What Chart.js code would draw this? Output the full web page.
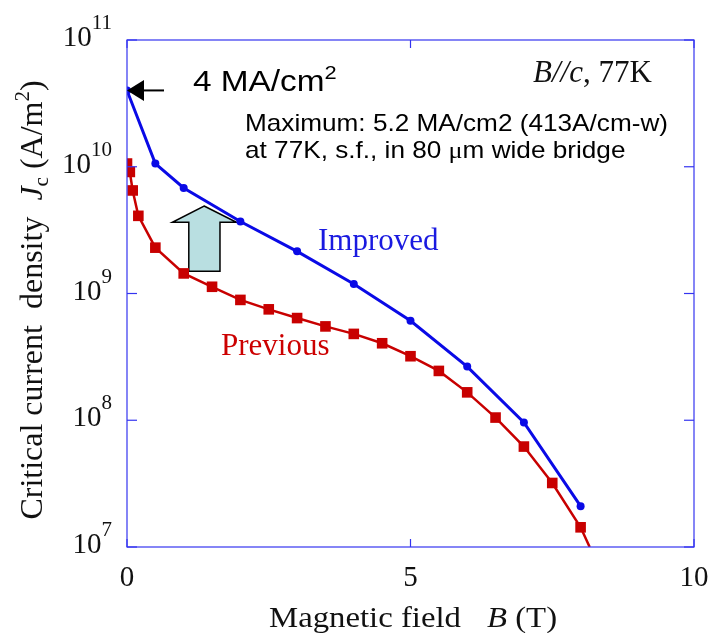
<!DOCTYPE html>
<html>
<head>
<meta charset="utf-8">
<script src="https://cdn.jsdelivr.net/npm/chart.js@4.4.1/dist/chart.umd.min.js"></script>
<style>
  body { margin: 0; background: #fff; }
  canvas { display: block; }
</style>
</head>
<body>
<canvas id="jcChart" width="711" height="633"></canvas>
<script>
// dados (B em T, Jc em A/m2)
const improvedField = [0, 0.5, 1, 2, 3, 4, 5, 6, 7, 8];
const improvedJc = [4.0e10, 1.06e10, 6.8e9, 3.7e9, 2.15e9, 1.19e9, 6.1e8, 2.65e8, 9.6e7, 2.1e7];

// a ultima posicao e onde a linha vermelha sai do quadro (sem marcador)
const previousField = [0, 0.05, 0.1, 0.2, 0.5, 1, 1.5, 2, 2.5, 3, 3.5, 4, 4.5, 5, 5.5, 6, 6.5, 7, 7.5, 8, 8.16];
const previousJc = [1.06e10, 9.1e9, 6.5e9, 4.1e9, 2.3e9, 1.44e9, 1.13e9, 8.9e8, 7.5e8, 6.4e8, 5.5e8, 4.8e8, 4.05e8, 3.2e8, 2.45e8, 1.66e8, 1.05e8, 6.2e7, 3.2e7, 1.43e7, 1.0e7];

// ticks dos eixos
const xTicks = [0, 5, 10];
const yTicks = [1e7, 1e8, 1e9, 1e10, 1e11];

// seta azul clara (em unidades de dados)
const blockArrowField = [1.36, 1.93, 1.64, 1.64, 1.09, 1.09, 0.8];
const blockArrowJc = [4.9e9, 3.65e9, 3.65e9, 1.5e9, 1.5e9, 3.65e9, 3.65e9];

const SERIF = '"Liberation Serif", "Times New Roman", serif';
const SANS = '"Liberation Sans", Arial, sans-serif';

// ____________________________________________________________________________________________

// desenha pedaços de texto em sequencia: [texto, fonte, deslocamento vertical]
function drawRuns(ctx, runs, x, y, align) {
    let total = 0;
    runs.forEach(r => { ctx.font = r[1]; total += ctx.measureText(r[0]).width; });
    let cx = x;
    if (align === 'right') cx = x - total;
    if (align === 'center') cx = x - total / 2;
    runs.forEach(r => {
        ctx.font = r[1];
        ctx.fillText(r[0], cx, y + (r[2] || 0));
        cx += ctx.measureText(r[0]).width;
    });
}

// texto esticado na horizontal (o original esta um pouco largo)
function drawWide(ctx, runs, x, y, sx) {
    ctx.save();
    ctx.translate(x, y);
    ctx.scale(sx, 1);
    drawRuns(ctx, runs, 0, 0, 'left');
    ctx.restore();
}

function line(ctx, x1, y1, x2, y2) {
    ctx.beginPath();
    ctx.moveTo(x1, y1);
    ctx.lineTo(x2, y2);
    ctx.stroke();
}

// ____________________________________________________________________________________________

const decorPlugin = {
    id: 'decor',
    beforeDatasetsDraw(chart) {
        const { ctx, scales: { x, y } } = chart;
        // seta em bloco
        ctx.save();
        ctx.beginPath();
        blockArrowField.forEach((b, i) => {
            const px = x.getPixelForValue(b);
            const py = y.getPixelForValue(blockArrowJc[i]);
            if (i === 0) ctx.moveTo(px, py); else ctx.lineTo(px, py);
        });
        ctx.closePath();
        ctx.fillStyle = '#b9dfe1';
        ctx.fill();
        ctx.strokeStyle = '#000';
        ctx.lineWidth = 1.5;
        ctx.stroke();
        ctx.restore();
    },
    afterDatasetsDraw(chart) {
        const { ctx, chartArea: a, scales: { x, y } } = chart;
        ctx.save();

        // moldura azul
        ctx.strokeStyle = '#3434f0';
        ctx.lineWidth = 1.2;
        ctx.strokeRect(a.left, a.top, a.right - a.left, a.bottom - a.top);

        // ticks para dentro
        yTicks.forEach(v => {
            const py = y.getPixelForValue(v);
            line(ctx, a.left, py, a.left + 10, py);
            line(ctx, a.right - 10, py, a.right, py);
        });
        xTicks.forEach(v => {
            const px = x.getPixelForValue(v);
            line(ctx, px, a.bottom, px, a.bottom - 8);
            line(ctx, px, a.top, px, a.top + 8);
        });

        // labels dos ticks
        ctx.fillStyle = '#111';
        ctx.textBaseline = 'alphabetic';
        yTicks.forEach(v => {
            const py = y.getPixelForValue(v);
            const exp = String(Math.round(Math.log10(v)));
            drawRuns(ctx, [['10', '29px ' + SERIF, 0], [exp, '21px ' + SERIF, -17]], a.left - 15, py + 6, 'right');
        });
        xTicks.forEach(v => {
            const px = x.getPixelForValue(v);
            drawRuns(ctx, [[String(v), '29px ' + SERIF, 0]], px, 586, 'center');
        });

        // titulo do eixo x
        drawWide(ctx, [['Magnetic field', '29px ' + SERIF, 0]], 269, 627, 1.13);
        drawWide(ctx, [['B', 'italic 29px ' + SERIF, 0], [' (T)', '29px ' + SERIF, 0]], 487, 627, 1.13);

        // titulo do eixo y (rotacionado)
        ctx.save();
        ctx.translate(42, 300);
        ctx.rotate(-Math.PI / 2);
        drawRuns(ctx, [
            ['Critical current  density  ', '32px ' + SERIF, 0],
            ['J', 'italic 32px ' + SERIF, 0],
            ['c', '21px ' + SERIF, 6],
            [' (A/m', '32px ' + SERIF, 0],
            ['2', '21px ' + SERIF, -13],
            [')', '32px ' + SERIF, 0]
        ], 0, 0, 'center');
        ctx.restore();

        // condicao de medida
        drawRuns(ctx, [['B//c', 'italic 31px ' + SERIF, 0], [', 77K', '31px ' + SERIF, 0]], 533, 82, 'left');

        // nomes das curvas
        ctx.fillStyle = '#1a1ae0';
        drawRuns(ctx, [['Improved', '31px ' + SERIF, 0]], 318, 250, 'left');
        ctx.fillStyle = '#cc0000';
        drawRuns(ctx, [['Previous', '31px ' + SERIF, 0]], 221, 355, 'left');

        // textos em sans
        ctx.fillStyle = '#000';
        drawWide(ctx, [['4 MA/cm', '29px ' + SANS, 0], ['2', '19px ' + SANS, -12]], 193, 91, 1.15);
        drawWide(ctx, [['Maximum: 5.2 MA/cm2 (413A/cm-w)', '24px ' + SANS, 0]], 245, 131, 1.09);
        drawWide(ctx, [
            ['at 77K, s.f., in 80 ', '24px ' + SANS, 0],
            ['\u03bc', '24px ' + SERIF, 0],
            ['m wide bridge', '24px ' + SANS, 0]
        ], 245, 158, 1.09);

        // seta preta apontando para o primeiro ponto azul
        const tx = x.getPixelForValue(improvedField[0]);
        const ty = y.getPixelForValue(improvedJc[0]);
        ctx.fillStyle = '#000';
        ctx.beginPath();
        ctx.moveTo(tx, ty);
        ctx.lineTo(tx + 17, ty - 10.5);
        ctx.lineTo(tx + 17, ty + 10.5);
        ctx.closePath();
        ctx.fill();
        ctx.strokeStyle = '#000';
        ctx.lineWidth = 2;
        line(ctx, tx + 16, ty, tx + 37, ty);

        ctx.restore();
    }
};

// ____________________________________________________________________________________________

const chartCtx = document.getElementById('jcChart').getContext('2d');

new Chart(chartCtx, {
    type: 'scatter',
    data: {
        datasets: [
            {
                label: 'Improved',
                data: improvedField.map((b, i) => ({ x: b, y: improvedJc[i] })),
                showLine: true,
                borderColor: '#0a0ae6',
                backgroundColor: '#0a0ae6',
                borderWidth: 3,
                pointStyle: 'circle',
                pointRadius: 4,
                pointBorderWidth: 0,
            },
            {
                label: 'Previous',
                data: previousField.map((b, i) => ({ x: b, y: previousJc[i] })),
                showLine: true,
                borderColor: '#c80000',
                backgroundColor: '#c80000',
                borderWidth: 2.5,
                pointStyle: 'rect',
                pointRadius: previousField.map((b, i) => (i < previousField.length - 1 ? 7.5 : 0)),
                pointBorderWidth: 0,
            },
        ],
    },
    options: {
        responsive: false,
        animation: false,
        layout: { padding: { left: 127, right: 17, top: 40, bottom: 86 } },
        plugins: {
            legend: { display: false },
            tooltip: { enabled: false },
        },
        scales: {
            x: { type: 'linear', min: 0, max: 10, display: false },
            y: { type: 'logarithmic', min: 1e7, max: 1e11, display: false },
        },
    },
    plugins: [decorPlugin],
});
</script>
</body>
</html>
